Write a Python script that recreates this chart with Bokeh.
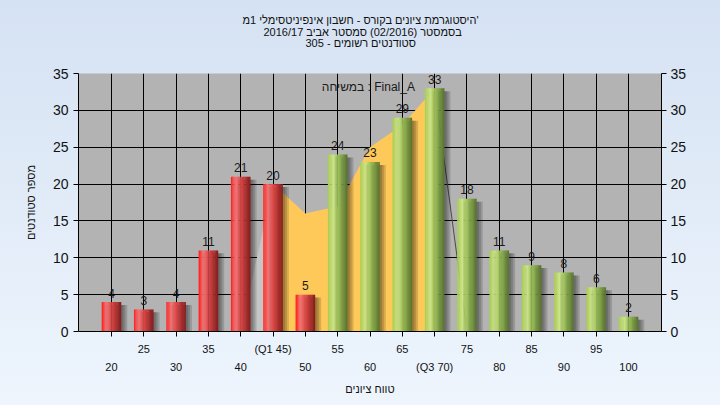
import numpy as np
from bokeh.plotting import figure
from bokeh.models import ColumnDataSource, FixedTicker, LinearAxis, Range1d, Label, Title
from bokeh.core.properties import value
from bokeh.embed import file_html
from bokeh.resources import INLINE

# ---------------- data ----------------
scores = [20, 25, 30, 35, 40, 45, 50, 55, 60, 65, 70, 75, 80, 85, 90, 95, 100]
counts = [4, 3, 4, 11, 21, 20, 5, 24, 23, 29, 33, 18, 11, 9, 8, 6, 2]
x_tick_labels = ["20", "25", "30", "35", "40", "(Q1 45)", "50", "55", "60", "65",
                 "(Q3 70)", "75", "80", "85", "90", "95", "100"]
y_ticks = [0, 5, 10, 15, 20, 25, 30, 35]
pass_score = 55
# "Final_A" area series
fit_scores = [40, 45, 50, 55, 60, 65, 70, 75]
fit_values = [0, 20, 16, 17, 25, 28, 33, 0]

title_lines = [
    "היסטוגרמת ציונים בקורס - חשבון אינפיניטסימלי 1מ'",
    "בסמסטר (02/2016) סמסטר אביב 2016/17",
    "סטודנטים רשומים - 305",
]
legend_text = "במשיחה : Final_A"
x_title = "טווח ציונים"
y_title = "מספר סטודנטים"

FONT = "Liberation Sans"

# ---------------- helpers ----------------
step = scores[1] - scores[0]
pos = [(s - scores[0]) / step for s in scores]          # category positions
fit_pos = [(s - scores[0]) / step for s in fit_scores]

red_stops = [(0.0, (255, 28, 28)), (0.25, (242, 118, 118)), (0.5, (222, 72, 72)), (1.0, (132, 26, 26))]
green_stops = [(0.0, (165, 205, 78)), (0.27, (206, 229, 138)), (0.5, (160, 196, 92)), (1.0, (86, 114, 46))]


def ramp(stops, t):
    for (t0, c0), (t1, c1) in zip(stops[:-1], stops[1:]):
        if t0 <= t <= t1:
            f = (t - t0) / (t1 - t0)
            c = [round(a + (b - a) * f) for a, b in zip(c0, c1)]
            return "#%02x%02x%02x" % tuple(c)
    return "#%02x%02x%02x" % stops[-1][1]


bar_w = 0.6
N = 16
sx, stop, scol = [], [], []
for p_, s, c in zip(pos, scores, counts):
    stops = green_stops if s >= pass_score else red_stops
    for j in range(N):
        t = (j + 0.5) / N
        sx.append(p_ - bar_w / 2 + t * bar_w)
        stop.append(c)
        scol.append(ramp(stops, t))
strips = ColumnDataSource(dict(x=sx, top=stop, color=scol))

bars = ColumnDataSource(dict(x=pos, top=counts, label=[str(c) for c in counts]))

# ---------------- figure ----------------
p = figure(frame_width=583, frame_height=258, output_backend="svg", toolbar_location=None,
           x_range=Range1d(-1.02, 17.02), y_range=Range1d(0, 35),
           min_border_left=78, min_border_right=59, min_border_top=73, min_border_bottom=74)
p.background_fill_color = "#b3b3b3"
p.border_fill_alpha = 0
p.outline_line_color = None
p.styles = {"background": "linear-gradient(180deg, #d5e2f3 0%, #eef5fd 100%)"}


def style_title(tt, offset, standoff):
    tt.align = "left"
    tt.offset = offset
    tt.standoff = standoff
    tt.text_font = FONT
    tt.text_font_size = "11px"
    tt.text_font_style = "normal"
    tt.text_color = "#111111"


# titles stack outward from the plot: spacer, line 3, line 2, line 1 (main title)
spacer = Title(text=".", text_color="#d9e5f4", text_font_size="11px", standoff=16, align="left")
p.add_layout(spacer, "above")
t3 = Title(text=title_lines[2])
style_title(t3, 227, -3)
p.add_layout(t3, "above")
t2 = Title(text=title_lines[1])
style_title(t2, 185, -3)
p.add_layout(t2, "above")
p.title.text = title_lines[0]
style_title(p.title, 164, 0)

# grid
p.xgrid.ticker = FixedTicker(ticks=pos)
p.ygrid.ticker = FixedTicker(ticks=y_ticks)
p.xgrid.grid_line_color = "black"
p.ygrid.grid_line_color = "black"
p.xgrid.grid_line_width = 1
p.ygrid.grid_line_width = 1

# x axis row 1 (odd categories)
xa = p.xaxis[0]
xa.ticker = FixedTicker(ticks=pos)
xa.major_label_overrides = {p_: (lab if k % 2 == 1 else "") for k, (p_, lab) in enumerate(zip(pos, x_tick_labels))}
xa.major_tick_out = 5
xa.major_tick_in = 0
xa.minor_tick_line_color = None
xa.major_label_standoff = 6
xa.major_label_text_font = FONT
xa.major_label_text_font_size = "11px"
xa.major_label_text_color = "#111111"
xa.axis_line_color = "black"
xa.major_tick_line_color = "black"

# x axis row 2 (even categories)
even_pos = [p_ for k, p_ in enumerate(pos) if k % 2 == 0]
xa2 = LinearAxis(ticker=FixedTicker(ticks=even_pos),
                 major_label_overrides={p_: lab for k, (p_, lab) in enumerate(zip(pos, x_tick_labels)) if k % 2 == 0},
                 axis_line_color=None, major_tick_line_color=None, minor_tick_line_color=None,
                 major_tick_out=0, major_tick_in=0, major_label_standoff=3,
                 major_label_text_font=FONT, major_label_text_font_size="11px",
                 major_label_text_color="#111111",
                 axis_label=x_title, axis_label_standoff=7, axis_label_text_font=FONT,
                 axis_label_text_font_size="11px", axis_label_text_font_style="normal",
                 axis_label_text_color="#111111")
p.add_layout(xa2, "below")

# y axes
ya = p.yaxis[0]
ya.ticker = FixedTicker(ticks=y_ticks)
ya.major_tick_out = 5
ya.major_tick_in = 0
ya.minor_tick_line_color = None
ya.major_label_standoff = 5
ya.major_label_text_font = FONT
ya.major_label_text_font_size = "14px"
ya.major_label_text_color = "#111111"
ya.axis_line_color = "black"
ya.major_tick_line_color = "black"
ya.axis_label = y_title
ya.axis_label_standoff = 13
ya.axis_label_text_font = FONT
ya.axis_label_text_font_size = "11px"
ya.axis_label_text_font_style = "normal"
ya.axis_label_text_color = "#111111"

ya2 = LinearAxis(ticker=FixedTicker(ticks=y_ticks), major_tick_out=5, major_tick_in=0,
                 minor_tick_line_color=None, major_label_standoff=4,
                 major_label_text_font=FONT, major_label_text_font_size="14px",
                 major_label_text_color="#111111", axis_line_color="black",
                 major_tick_line_color="black")
p.add_layout(ya2, "right")

# ---------------- glyphs ----------------
# Final_A area
i45, i70 = 1, 6
p.varea(x=fit_pos[:i45 + 1], y1=0, y2=fit_values[:i45 + 1], fill_color="#c6c6c6")
p.varea(x=fit_pos[i45:i70 + 1], y1=0, y2=fit_values[i45:i70 + 1], fill_color="#ffc95a")
p.line(x=fit_pos[i70:], y=fit_values[i70:], line_color="#4a4a4a", line_width=1)

# bar shadows
for off in [0.07, 0.13, 0.19]:
    p.vbar(x=[v + off for v in pos], width=bar_w, top=[c - 0.4 for c in counts], bottom=0,
           fill_color="black", fill_alpha=0.15, line_color=None)

# bars as gradient strips
p.vbar(x="x", top="top", bottom=0, width=bar_w / N * 1.2, fill_color="color",
       line_color=None, source=strips)

# value labels
p.text(x="x", y="top", text="label", source=bars, text_align="center",
       text_baseline="alphabetic", y_offset=-9, text_font=value(FONT),
       text_font_size="12px", text_color="#1a1a1a")

# legend text
p.add_layout(Label(x=7.95, y=34.1, text=legend_text, text_align="center", text_baseline="top",
                   text_font=FONT, text_font_size="12px", text_color="#1a1a1a"))

open("out.html", "w").write(file_html(p, INLINE))
